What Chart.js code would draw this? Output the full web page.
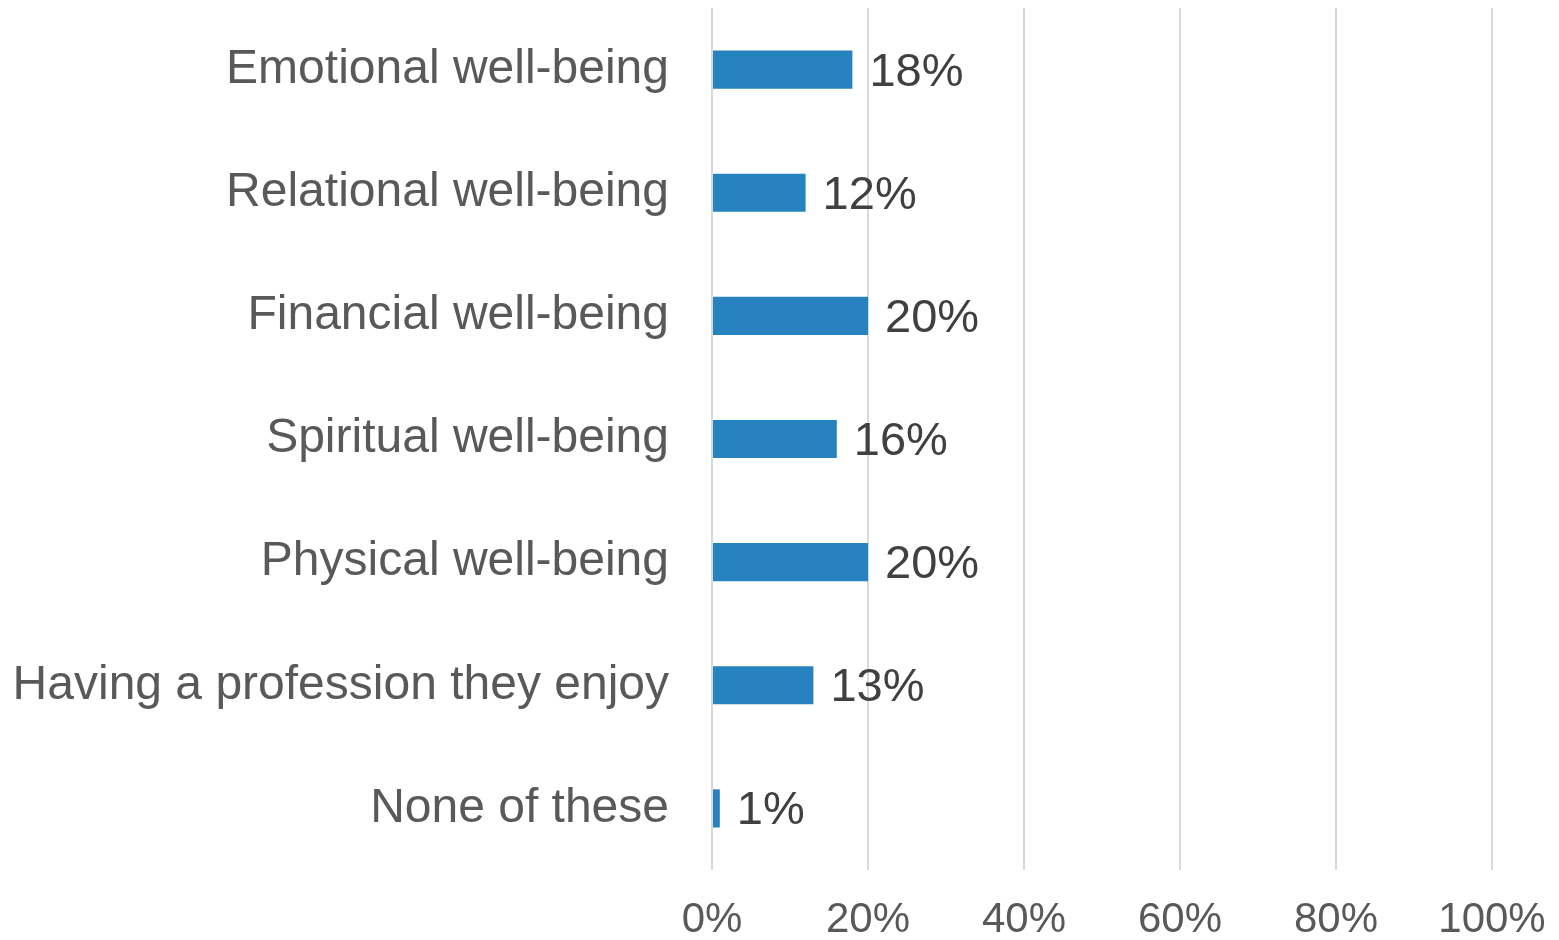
<!DOCTYPE html>
<html>
<head>
<meta charset="utf-8">
<script src="https://cdn.jsdelivr.net/npm/chart.js@4"></script>
<style>
  html, body { margin: 0; padding: 0; background: #fff; }
  #wrap { position: relative; width: 1559px; height: 940px; }
</style>
</head>
<body>
<div id="wrap"><canvas id="chart"></canvas></div>
<script>
// ── data ──
const categories = [
  'Emotional well-being',
  'Relational well-being',
  'Financial well-being',
  'Spiritual well-being',
  'Physical well-being',
  'Having a profession they enjoy',
  'None of these'
]
const shares = [18, 12, 20, 16, 20, 13, 1]
const xTicks = [0, 20, 40, 60, 80, 100]

const FONT = '"Liberation Sans", Arial, sans-serif'

// draws the "18%" style labels at the end of each bar
const barLabels = {
  id: 'barLabels',
  afterDatasetsDraw(chart) {
    const { ctx } = chart
    const meta = chart.getDatasetMeta(0)
    ctx.save()
    ctx.font = `47px ${FONT}`
    ctx.fillStyle = '#404040'
    ctx.textAlign = 'left'
    ctx.textBaseline = 'middle'
    meta.data.forEach((bar, i) => {
      ctx.fillText(shares[i] + '%', bar.x + 17, bar.y + 3)
    })
    ctx.restore()
  }
}

new Chart(document.getElementById('chart'), {
  type: 'bar',
  data: {
    labels: categories,
    datasets: [{
      data: shares,
      backgroundColor: '#2683C0',
      borderWidth: 0,
      categoryPercentage: 1,
      barPercentage: 0.31,
    }]
  },
  options: {
    indexAxis: 'y',
    responsive: true, maintainAspectRatio: false,
    animation: false,
    layout: { padding: { top: 8, right: 67, left: 0, bottom: 0 } },
    plugins: { legend: { display: false }, tooltip: { enabled: false } },
    scales: {
      x: {
        min: 0, max: 100,
        afterBuildTicks: s => { s.ticks = xTicks.map(v => ({ value: v })) },
        afterFit: s => { s.height = 70; s.paddingLeft = 0; s.paddingRight = 0 },
        ticks: { color: '#595959', font: { family: FONT, size: 42 }, padding: 25, callback: v => v + '%' },
        grid: { color: '#d9d9d9', lineWidth: 2, drawTicks: false },
        border: { display: false },
      },
      y: {
        afterFit: s => { s.width = 712; s.paddingTop = 0; s.paddingBottom = 0 },
        ticks: { color: '#595959', font: { family: FONT, size: 48 }, padding: 43 },
        grid: { display: false, drawTicks: false },
        border: { display: false },
      },
    },
  },
  plugins: [barLabels],
})
</script>
</body>
</html>
